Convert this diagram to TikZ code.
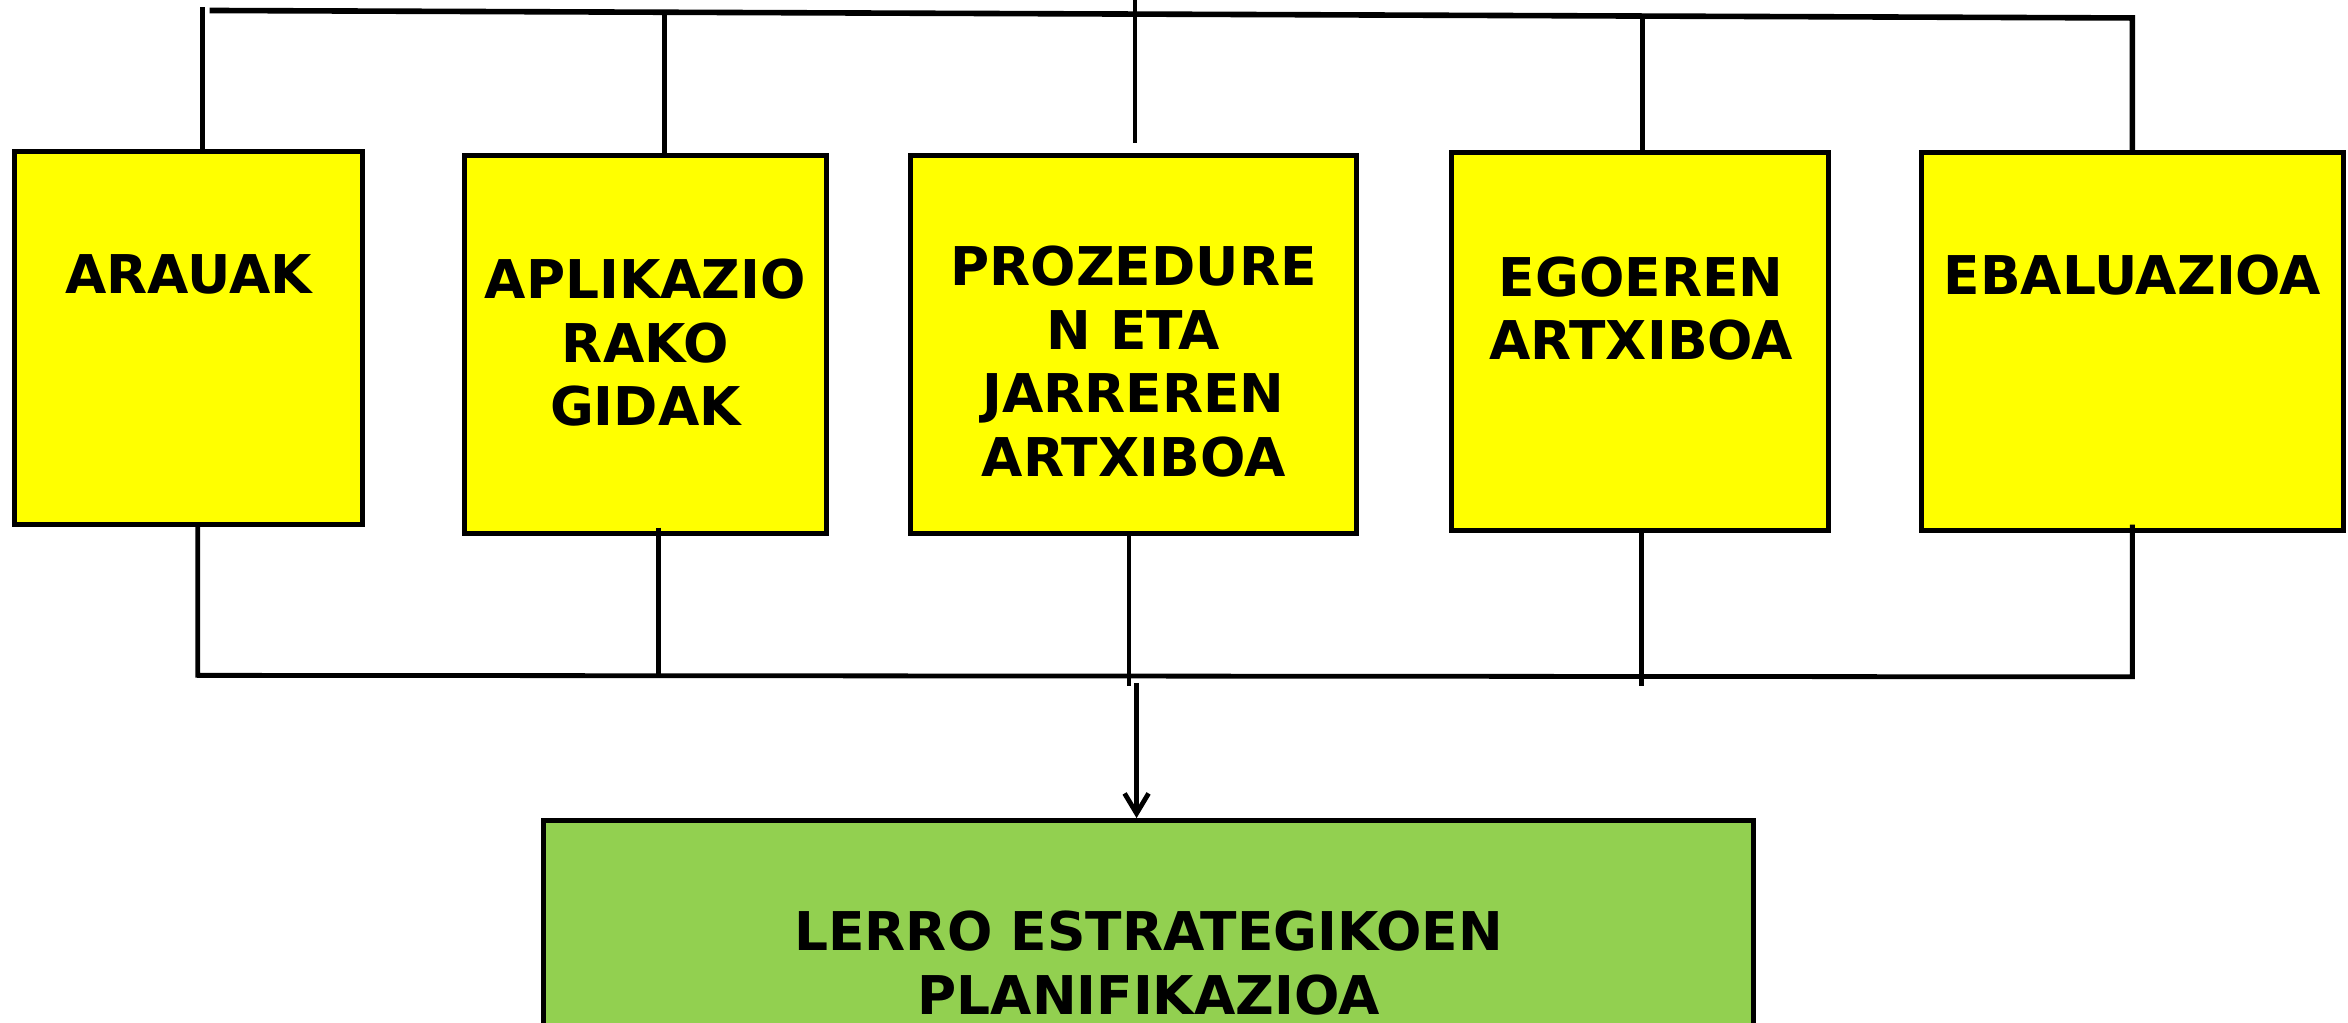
\documentclass[tikz,border=0pt]{standalone}
\usepackage{fontspec}
\setmainfont{DejaVu Sans}
\usetikzlibrary{arrows.meta}

\definecolor{boxyellow}{HTML}{FFFF00}
\definecolor{boxgreen}{HTML}{92D050}

\begin{document}
\begin{tikzpicture}[x=0.7487pt, y=-0.7487pt,
		box/.style={draw, line width=2.5pt, fill=boxyellow, inner sep=0pt},
		goal/.style={draw, line width=2.5pt, fill=boxgreen, inner sep=0pt},
		lbl/.style={font=\bfseries\fontsize{26.7}{31.8}\selectfont, align=center, inner sep=0pt},
		wire/.style={line width=2.4pt}]
			\clip (0,0) rectangle (1568,683);
			
			% The five source boxes
			\node[box, minimum width=173.7pt, minimum height=186.4pt] (arauak) at (126,225.5) {};
			\node[box, minimum width=181.2pt, minimum height=188.7pt] (gidak) at (431,230) {};
			\node[box, minimum width=223.1pt, minimum height=188.7pt] (prozedura) at (757,230) {};
			\node[box, minimum width=188.7pt, minimum height=188.7pt] (egoera) at (1095,228) {};
			\node[box, minimum width=211.1pt, minimum height=188.7pt] (ebaluazioa) at (1424,228) {};
			
			% Their labels
			\node[lbl] (arauak-t) at (126,183) {ARAUAK};
			\node[lbl] (gidak-t) at (431,229) {APLIKAZIO\\RAKO\\GIDAK};
			\node[lbl] (prozedura-t) at (757,241.5) {PROZEDURE\\N ETA\\JARREREN\\ARTXIBOA};
			\node[lbl] (egoera-t) at (1096,206) {EGOEREN\\ARTXIBOA};
			\node[lbl] (ebaluazioa-t) at (1424,184) {EBALUAZIOA};
			
			% Result box
			\node[goal, minimum width=605pt, minimum height=128.8pt] (plan) at (767,634) {};
			\node[lbl] (plan-t) at (767,643) {LERRO ESTRATEGIKOEN\\PLANIFIKAZIOA};
			
			% Top bus
			\coordinate (t1) at (135,5);
			\coordinate (ta) at (140,7);
			\coordinate (t2) at (444,9);
			\coordinate (t3) at (758,0);
			\coordinate (t4) at (1097,11);
			\coordinate (t5) at (1424,12);
			\draw[wire, line width=2.8pt] (ta) -- (t5) -- (ebaluazioa.north);
			\draw[wire] (t1) -- (t1 |- arauak.north);
			\draw[wire] (t2) -- (t2 |- gidak.north);
			\draw[wire, shorten >=5pt] (t3) -- (t3 |- prozedura.north);
			\draw[wire] (t4) -- (t4 |- egoera.north);
			
			% Bottom bus
			\coordinate (b1) at (132,451);
			\coordinate (b2) at (440,453);
			\coordinate (b3) at (754,458);
			\coordinate (b4) at (1096,458);
			\coordinate (b5) at (1424,452);
			\draw[wire] (arauak.south -| b1) -- (b1) -- (b5) -- ([yshift=4pt]ebaluazioa.south -| b5);
			\draw[wire] ([yshift=4pt]gidak.south -| b2) -- (b2);
			\draw[wire] (prozedura.south -| b3) -- (b3);
			\draw[wire] (egoera.south -| b4) -- (b4);
			
			% Arrow to the plan
			\coordinate (a0) at (759,456);
			\draw[wire, -{Straight Barb[length=10pt, width=12pt]}] (a0) -- (plan.north -| a0);
		\end{tikzpicture}
\end{document}
